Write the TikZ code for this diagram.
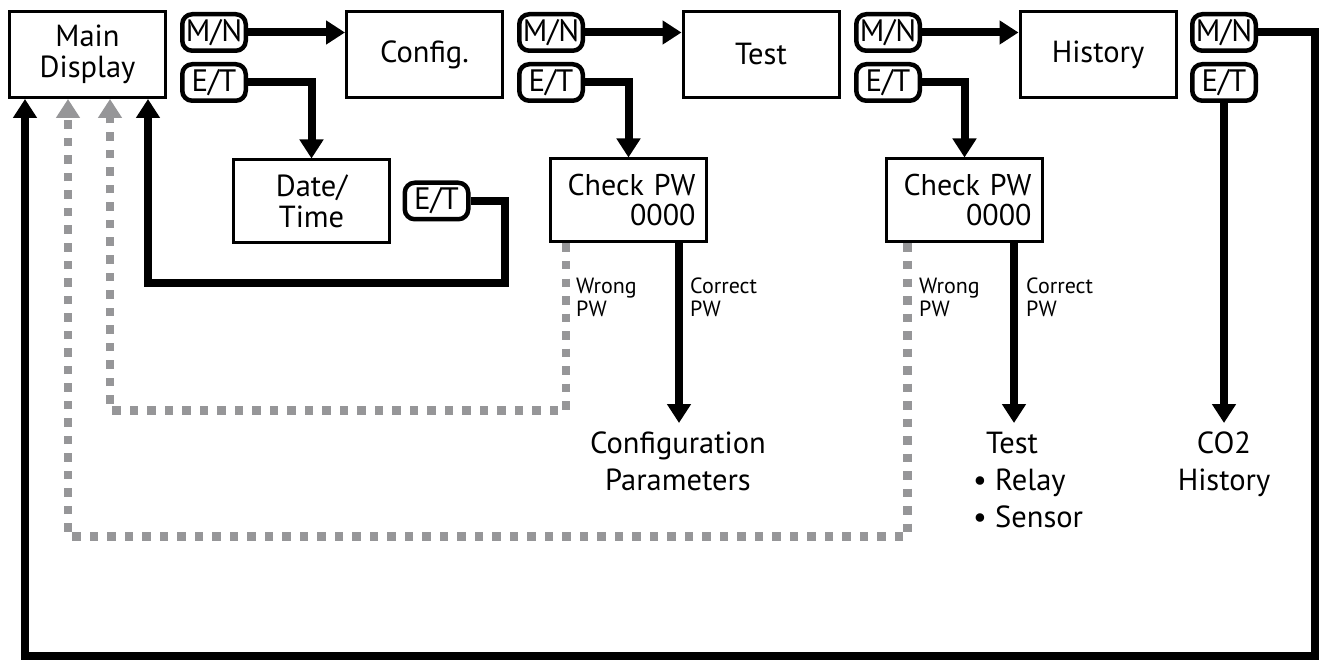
\documentclass[tikz,border=0pt]{standalone}
\usepackage{fontspec}
\setmainfont{PT Sans}
\usetikzlibrary{arrows.meta}
\definecolor{dashgray}{RGB}{150,150,152}
\tikzset{
  screen/.style={draw, line width=3pt, minimum width=156pt, minimum height=86pt,
    inner sep=0pt, align=center, font=\fontsize{30.5}{31}\selectfont},
  pwbox/.style={screen, minimum height=83pt, text width=134pt, align=right,
    inner xsep=11pt, font=\fontsize{30}{30}\selectfont},
  key/.style={draw, line width=4.5pt, rounded corners=10pt, minimum width=63.5pt,
    minimum height=36.5pt, inner sep=0pt, font=\fontsize{31}{31}\selectfont},
  flow/.style={line width=8pt, -{Triangle[length=19pt,width=23pt]}},
  wrongflow/.style={line width=8.5pt, draw=dashgray, dash pattern=on 8.5pt off 9pt,
    -{Triangle[length=19pt,width=23pt,fill=dashgray]}},
  result/.style={inner sep=0pt, align=center, font=\fontsize{30.5}{37}\selectfont},
  small/.style={inner sep=0pt, align=left, font=\fontsize{22}{23}\selectfont},
}
\begin{document}
\begin{tikzpicture}[x=1pt, y=-1pt]
\useasboundingbox (0,0) rectangle (1319,660);

% menu screens
\node[screen] (main)   at (87.5,54.5)  {Main\\Display};
\node[screen] (config) at (424.5,54.5) {Config.};
\node[screen] (test)   at (761,54.5)   {Test};
\node[screen] (hist)   at (1098,54.5)  {History};
\node[screen, minimum height=83pt] (dt) at (311.5,201.5) {Date/\\Time};
\node[pwbox] (pw1) at (628.5,200.5) {Check PW\\0000};
\node[pwbox] (pw2) at (964.5,200.5) {Check PW\\0000};

% keys
\node[key] (mn1) at (214,32.5) {M/N};
\node[key] (et1) at (214,82.5) {E/T};
\node[key] (mn2) at (551,32.5) {M/N};
\node[key] (et2) at (551,82.5) {E/T};
\node[key] (mn3) at (888,32.5) {M/N};
\node[key] (et3) at (888,82.5) {E/T};
\node[key] (mn4) at (1224,32.5) {M/N};
\node[key] (et4) at (1224,82.5) {E/T};
\node[key] (etdt) at (436.5,201) {E/T};

% results
\node[result, anchor=north] (cfgp) at (678,432) {Configuration\\Parameters};
\node[result, anchor=north west, align=left] (tlist) at (973,432)
  {\hspace{13pt}Test\\• Relay\\• Sensor};
\node[result, anchor=north] (co2) at (1224,432) {CO2\\History};

% branch labels
\node[small, anchor=north west] (w1) at (576,278) {Wrong\\PW};
\node[small, anchor=north west] (c1) at (690,278) {Correct\\PW};
\node[small, anchor=north west] (w2) at (919,278) {Wrong\\PW};
\node[small, anchor=north west] (c2) at (1026,278) {Correct\\PW};

% helper points
\coordinate (a1) at (679,423);
\coordinate (a2) at (1014,423);
\coordinate (a3) at (1224,423);
\coordinate (rt) at (1315,656);
\coordinate (lb) at (25,656);
\coordinate (dr) at (505,283);
\coordinate (dl) at (148,283);
\coordinate (w1c) at (566,410.5);
\coordinate (w1l) at (110,410.5);
\coordinate (w2c) at (907.5,536.5);
\coordinate (w2l) at (68,536.5);

% wrong password returns
\draw[wrongflow] (pw1.south -| w1c) -- (w1c) -- (w1l) -- (main.south -| w1l);
\draw[wrongflow] (pw2.south -| w2c) -- (w2c) -- (w2l) -- (main.south -| w2l);

% M/N chain
\draw[flow] (mn1.east) -- (mn1.east -| config.west);
\draw[flow] (mn2.east) -- (mn2.east -| test.west);
\draw[flow] (mn3.east) -- (mn3.east -| hist.west);
\draw[flow] (mn4.east) -| (rt) -| (main.south -| lb);

% E/T branches
\draw[flow] (et1.east) -| (dt.north);
\draw[flow] (et2.east) -| (pw1.north);
\draw[flow] (et3.east) -| (pw2.north);
\draw[flow] (et4.south) -- (a3);
\draw[flow] (etdt.east) -| (dr) -- (dl) -- (main.south -| dl);

% correct password
\draw[flow] (pw1.south -| a1) -- (a1);
\draw[flow] (pw2.south -| a2) -- (a2);
\end{tikzpicture}
\end{document}
